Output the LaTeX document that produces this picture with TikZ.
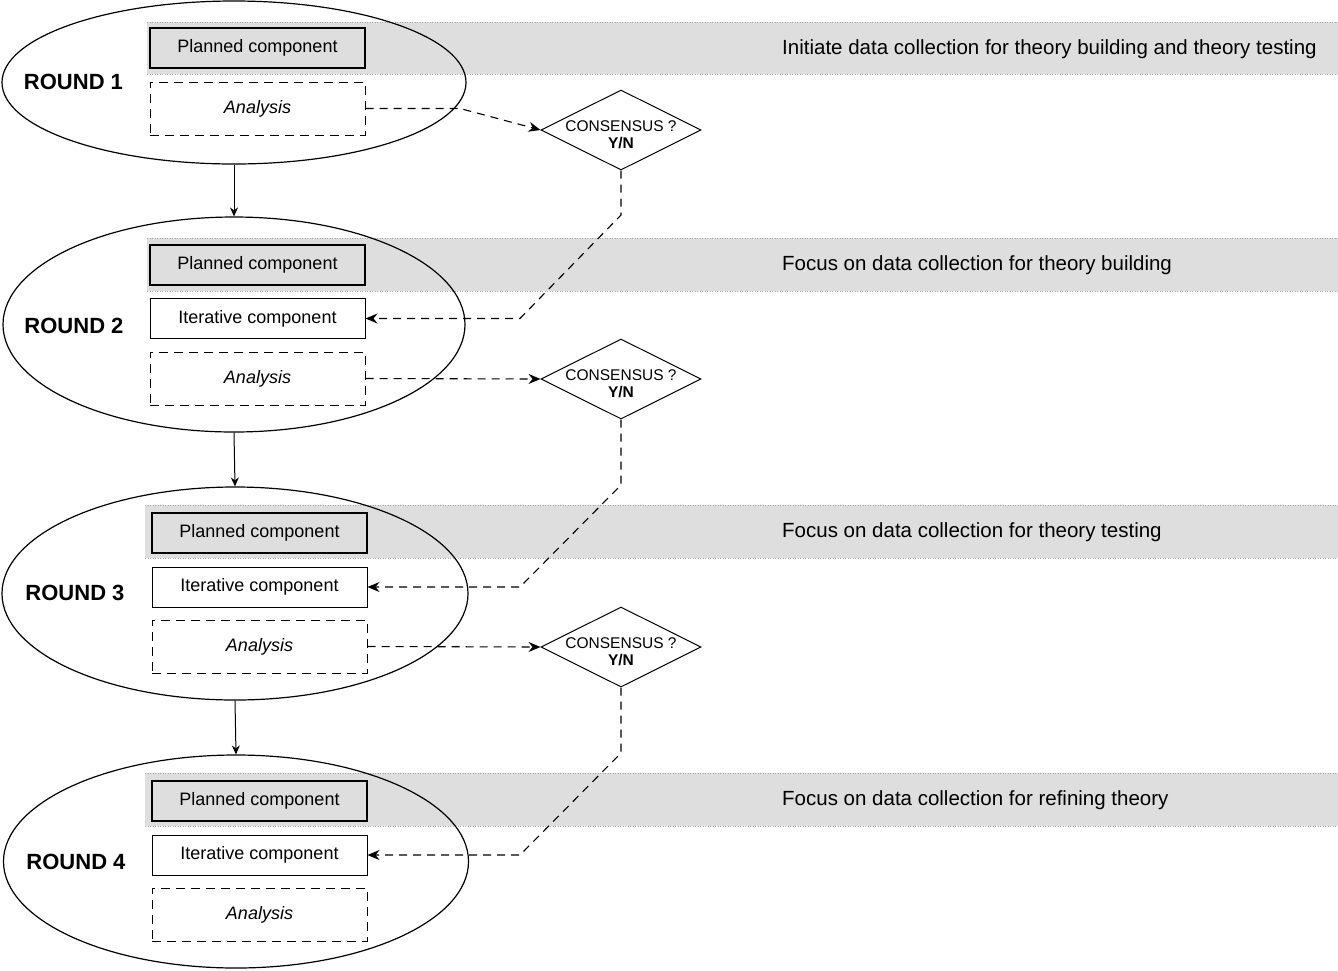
\documentclass[tikz,border=0pt]{standalone}
\usepackage{fontspec}
\setmainfont{Liberation Sans}
\usetikzlibrary{shapes.geometric,arrows.meta,calc}
\definecolor{bandgray}{gray}{0.87}
\begin{document}
\begin{tikzpicture}[x=1pt,y=-1pt,
  roundnode/.style={ellipse,draw,line width=1.2pt,inner sep=0pt},
  roundlabel/.style={font=\fontsize{22}{24}\selectfont\bfseries,inner sep=0pt},
  comp/.style={draw,line width=1pt,minimum width=215pt,minimum height=40pt,
    inner sep=0pt,font=\fontsize{18}{20}\selectfont},
  planned/.style={comp,line width=1.8pt},
  iterative/.style={comp},
  analysis/.style={comp,minimum height=53pt,dash pattern=on 9pt off 6pt,
    font=\fontsize{18}{20}\selectfont\itshape},
  decision/.style={diamond,draw,line width=1pt,minimum width=160pt,
    minimum height=80pt,inner sep=0pt},
  decisiontext/.style={font=\fontsize{15.5}{17}\selectfont,align=center,inner sep=0pt},
  focus/.style={anchor=west,inner sep=0pt,font=\fontsize{20.5}{22}\selectfont},
  band/.style={fill=bandgray},
  bandedge/.style={gray!70,line width=1pt,dash pattern=on 1pt off 1.5pt},
  flow/.style={line width=1pt,-{Stealth[length=9pt,width=8pt,inset=3pt]}},
  feedback/.style={line width=1.1pt,dash pattern=on 8pt off 6pt,
    -{Stealth[length=12pt,width=10pt,inset=4pt]}}
]
\fill[white] (0,0) rectangle (1338,970);
\useasboundingbox (0,0) rectangle (1338,970);

% shaded bands behind each round's planned component
\fill[band] (147,22) rectangle (1338,74);
\fill[band] (147,238) rectangle (1338,291);
\fill[band] (145,505) rectangle (1338,558);
\fill[band] (145,773) rectangle (1338,826);
\draw[bandedge] (147,22) -- (1338,22);
\draw[bandedge] (147,74) -- (1338,74);
\draw[bandedge] (147,238) -- (1338,238);
\draw[bandedge] (147,291) -- (1338,291);
\draw[bandedge] (145,505) -- (1338,505);
\draw[bandedge] (145,558) -- (1338,558);
\draw[bandedge] (145,773) -- (1338,773);
\draw[bandedge] (145,826) -- (1338,826);

% rounds
\node[roundnode,minimum width=464pt,minimum height=163pt] (r1) at (234,82.5) {};
\node[roundnode,minimum width=462pt,minimum height=215pt] (r2) at (234,324.5) {};
\node[roundnode,minimum width=466pt,minimum height=213pt] (r3) at (235,593.5) {};
\node[roundnode,minimum width=465pt,minimum height=213pt] (r4) at (236,861.5) {};

\node[roundlabel] (l1) at (73.5,82) {ROUND 1};
\node[roundlabel] (l2) at (74,326) {ROUND 2};
\node[roundlabel] (l3) at (75,593) {ROUND 3};
\node[roundlabel] (l4) at (76,862) {ROUND 4};

% components
\node[planned] (p1) at (257.5,48) {Planned component};
\node[analysis] (a1) at (257.5,108.5) {Analysis};

\node[planned] (p2) at (257.5,265) {Planned component};
\node[iterative] (i2) at (257.5,318.5) {Iterative component};
\node[analysis] (a2) at (257.5,378.5) {Analysis};

\node[planned] (p3) at (259.5,533) {Planned component};
\node[iterative] (i3) at (259.5,587) {Iterative component};
\node[analysis] (a3) at (259.5,646.5) {Analysis};

\node[planned] (p4) at (259.5,801) {Planned component};
\node[iterative] (i4) at (259.5,855) {Iterative component};
\node[analysis] (a4) at (259.5,914.5) {Analysis};

% consensus decisions
\node[decision] (d1) at (621,130) {};
\node[decision] (d2) at (621,379) {};
\node[decision] (d3) at (621,647) {};
\node[decisiontext] (t1) at (621,134.5) {CONSENSUS ?\\\textbf{Y/N}};
\node[decisiontext] (t2) at (621,383.5) {CONSENSUS ?\\\textbf{Y/N}};
\node[decisiontext] (t3) at (621,651.5) {CONSENSUS ?\\\textbf{Y/N}};

% focus of each round
\node[focus] (f1) at (782,49) {Initiate data collection for theory building and theory testing};
\node[focus] (f2) at (782,265.5) {Focus on data collection for theory building};
\node[focus] (f3) at (782,532.5) {Focus on data collection for theory testing};
\node[focus] (f4) at (782,800.5) {Focus on data collection for refining theory};

% round to round
\draw[flow] (r1.south) -- (r2.north);
\draw[flow] (r2.south) -- (r3.north);
\draw[flow] (r3.south) -- (r4.north);

% analysis to consensus check
\coordinate (k1) at (460,108.5);
\draw[feedback] (a1.east) -- (k1) -- (d1.west);
\draw[feedback] (a2.east) -- (d2.west);
\draw[feedback] (a3.east) -- (d3.west);

% consensus check back to the next iterative component
\coordinate (v1) at (621,215);
\coordinate (h1) at (520,318.5);
\coordinate (v2) at (621,485);
\coordinate (h2) at (520,587);
\coordinate (v3) at (621,753);
\coordinate (h3) at (520,855);
\draw[feedback] (d1.south) -- (v1) -- (h1) -- (i2.east);
\draw[feedback] (d2.south) -- (v2) -- (h2) -- (i3.east);
\draw[feedback] (d3.south) -- (v3) -- (h3) -- (i4.east);
\end{tikzpicture}
\end{document}
